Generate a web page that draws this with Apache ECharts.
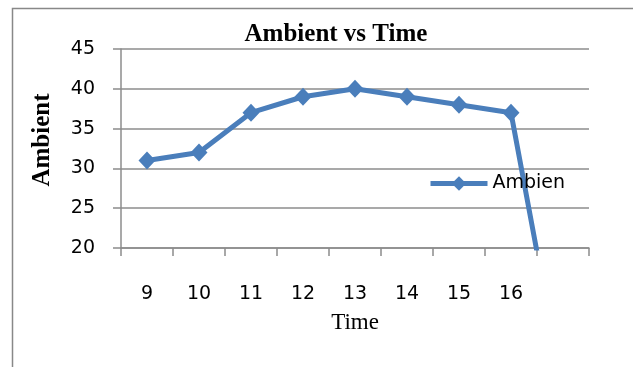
<!DOCTYPE html>
<html>
<head>
<meta charset="utf-8">
<style>
html,body{margin:0;padding:0;background:#fff;}
#chart{width:640px;height:367px;}
</style>
<script src="https://cdn.jsdelivr.net/npm/echarts@6/dist/echarts.min.js"></script>
</head>
<body>
<div id="chart"></div>
<script>
var categories = ['9', '10', '11', '12', '13', '14', '15', '16', ''];
var ambientValues = [31, 32, 37, 39, 40, 39, 38, 37, 2];
var yTicks = [20, 25, 30, 35, 40, 45];
var titleText = 'Ambient vs Time';
var xName = 'Time';
var yName = 'Ambient';
var seriesName = 'Ambient';

var chart = echarts.init(document.getElementById('chart'), null, {renderer: 'canvas'});
var blue = '#4a7ebb';
var grey = '#8c8c8c';
chart.setOption({
  animation: false,
  backgroundColor: '#fff',
  graphic: [{
    type: 'polyline',
    shape: {points: [[12.5, 367], [12.5, 8.5], [633, 8.5]]},
    style: {stroke: '#888', lineWidth: 1.5, fill: null},
    silent: true
  }],
  title: {
    text: titleText,
    left: 331, top: 17, textAlign: 'center',
    textStyle: {fontFamily: 'Liberation Serif', fontWeight: 'bold', fontSize: 25, color: '#000'}
  },
  legend: {
    left: 428, top: 174, padding: 0,
    itemWidth: 57, itemHeight: 18, itemGap: 0,
    data: [seriesName],
    formatter: function (name) { return name.slice(0, 6); },
    lineStyle: {width: 5},
    textStyle: {fontFamily: 'DejaVu Sans', fontSize: 19, color: '#000'}
  },
  grid: {left: 121, right: 51, top: 49, bottom: 119, containLabel: false},
  xAxis: {
    type: 'category', data: categories, boundaryGap: true,
    name: xName, nameLocation: 'middle', nameGap: 49, nameMoveOverlap: false,
    nameTextStyle: {fontFamily: 'Liberation Serif', fontSize: 23, color: '#000',
      backgroundColor: '#fff', padding: [14, 70, 4, 70]},
    axisLine: {lineStyle: {color: grey, width: 1.5}},
    axisTick: {show: true, length: 8, alignWithLabel: false, lineStyle: {color: grey, width: 1.5}},
    axisLabel: {margin: 37, fontFamily: 'DejaVu Sans', fontSize: 19, color: '#000', interval: 0},
    splitLine: {show: false}
  },
  yAxis: {
    type: 'value', min: yTicks[0], max: yTicks[yTicks.length - 1], interval: 5,
    name: yName, nameLocation: 'middle', nameGap: 66, nameRotate: 90, nameMoveOverlap: false,
    nameTextStyle: {fontFamily: 'Liberation Serif', fontWeight: 'bold', fontSize: 25, color: '#000', padding: [0, 0, 0, 17]},
    axisLine: {show: true, lineStyle: {color: grey, width: 1.5}},
    axisTick: {show: true, length: 8, lineStyle: {color: grey, width: 1.5}},
    axisLabel: {margin: 26, fontFamily: 'DejaVu Sans', fontSize: 19, color: '#000'},
    splitLine: {show: true, lineStyle: {color: grey, width: 1.5}}
  },
  series: [{
    name: seriesName, type: 'line', data: ambientValues,
    symbol: 'diamond', symbolSize: [17, 18], showAllSymbol: true,
    clip: true,
    lineStyle: {color: blue, width: 5},
    itemStyle: {color: blue},
    z: 3
  }]
});
</script>
</body>
</html>
